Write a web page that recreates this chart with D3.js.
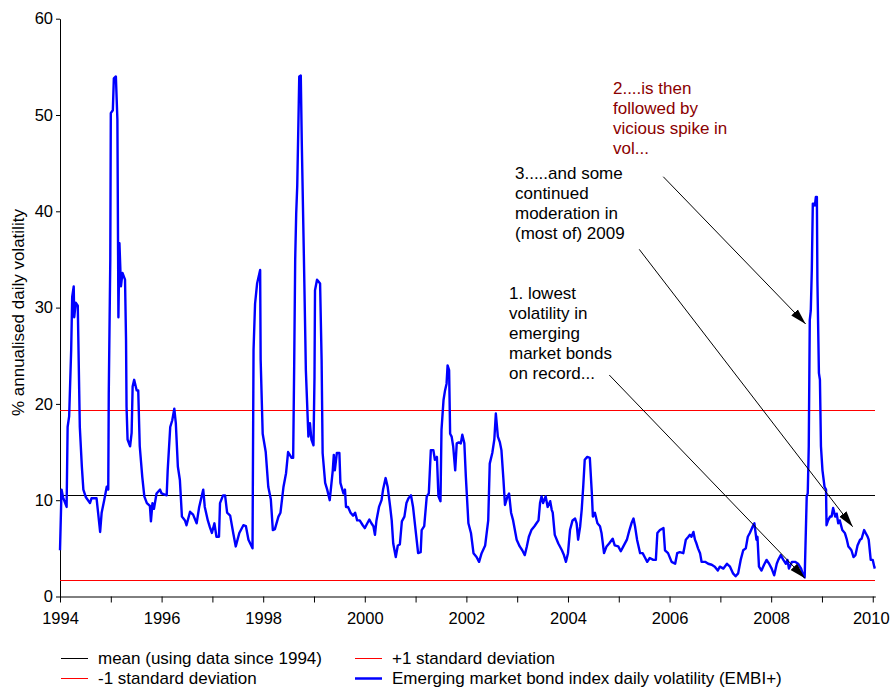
<!DOCTYPE html>
<html>
<head>
<meta charset="utf-8">
<script src="https://cdn.jsdelivr.net/npm/d3@7"></script>
<style>
  body { margin: 0; background: #fff; }
  text { font-family: Arial, "Liberation Sans", sans-serif; }
</style>
</head>
<body>
<svg id="chart" width="890" height="688"></svg>
<script>
// EMBI+ daily volatility, % annualised: [decimal year, value]
const embiVol = [
  [1994.00,4.8],[1994.03,11.1],[1994.06,10.3],[1994.13,9.3],[1994.15,17.6],[1994.18,18.7],
  [1994.22,25.6],[1994.24,31.1],[1994.27,32.2],[1994.28,29.0],[1994.31,30.5],[1994.35,30.2],
  [1994.36,27.0],[1994.39,17.6],[1994.43,13.5],[1994.46,11.1],[1994.51,10.3],[1994.59,9.7],
  [1994.62,10.2],[1994.72,10.2],[1994.75,8.7],[1994.79,6.7],[1994.82,8.7],[1994.87,10.0],
  [1994.92,11.4],[1994.95,11.1],[1994.96,21.1],[1994.99,35.0],[1995.00,50.2],[1995.04,50.5],
  [1995.06,53.8],[1995.10,54.0],[1995.13,49.5],[1995.15,29.0],[1995.17,36.7],[1995.20,32.2],
  [1995.23,33.6],[1995.28,32.9],[1995.30,26.6],[1995.31,19.7],[1995.33,16.3],[1995.38,15.6],
  [1995.41,17.0],[1995.43,21.8],[1995.46,22.5],[1995.51,21.4],[1995.54,21.4],[1995.57,15.6],
  [1995.62,12.4],[1995.66,10.4],[1995.71,9.7],[1995.77,9.4],[1995.79,7.8],[1995.82,9.7],
  [1995.85,9.1],[1995.90,10.7],[1995.97,11.1],[1996.00,10.7],[1996.10,10.5],[1996.12,13.1],
  [1996.17,17.6],[1996.21,18.3],[1996.25,19.5],[1996.28,18.0],[1996.32,13.5],[1996.36,12.1],
  [1996.40,8.3],[1996.46,7.9],[1996.49,7.4],[1996.56,8.8],[1996.62,8.5],[1996.69,7.6],
  [1996.74,9.3],[1996.82,11.1],[1996.85,9.3],[1996.91,7.9],[1996.95,7.2],[1996.99,6.6],
  [1997.04,7.6],[1997.08,6.2],[1997.13,6.2],[1997.15,9.7],[1997.21,10.5],[1997.25,10.5],
  [1997.29,8.7],[1997.35,8.4],[1997.41,6.6],[1997.46,5.2],[1997.53,6.6],[1997.61,7.4],
  [1997.66,7.3],[1997.71,5.9],[1997.79,5.0],[1997.81,25.6],[1997.84,30.4],[1997.88,32.5],
  [1997.94,33.9],[1997.95,24.6],[1997.99,16.9],[1998.05,15.0],[1998.10,11.4],[1998.15,10.1],
  [1998.19,6.9],[1998.23,7.0],[1998.30,8.3],[1998.34,8.7],[1998.40,11.4],[1998.45,12.8],
  [1998.49,15.0],[1998.56,14.4],[1998.59,14.4],[1998.61,23.9],[1998.63,35.0],[1998.65,39.8],
  [1998.67,42.6],[1998.71,54.0],[1998.74,54.1],[1998.76,47.1],[1998.80,35.6],[1998.83,26.6],
  [1998.84,23.5],[1998.89,16.6],[1998.92,18.0],[1998.95,16.3],[1998.99,15.7],[1999.01,22.8],
  [1999.02,31.8],[1999.06,32.9],[1999.12,32.5],[1999.15,24.6],[1999.17,14.9],[1999.22,11.8],
  [1999.26,11.1],[1999.31,10.0],[1999.37,13.1],[1999.39,14.7],[1999.41,13.1],[1999.45,14.9],
  [1999.50,14.9],[1999.52,11.8],[1999.58,10.7],[1999.61,11.1],[1999.63,9.3],[1999.67,9.3],
  [1999.72,8.7],[1999.77,8.4],[1999.81,8.7],[1999.85,7.9],[1999.90,7.9],[1999.96,7.4],
  [2000.00,7.1],[2000.05,7.6],[2000.09,8.0],[2000.13,7.6],[2000.17,7.3],[2000.20,6.4],
  [2000.23,7.9],[2000.28,9.3],[2000.33,10.0],[2000.36,11.1],[2000.41,12.3],[2000.45,11.4],
  [2000.50,9.3],[2000.53,7.9],[2000.56,5.5],[2000.61,4.1],[2000.65,5.3],[2000.69,5.4],
  [2000.73,7.8],[2000.78,8.3],[2000.82,9.7],[2000.86,10.2],[2000.91,10.5],[2000.95,9.3],
  [2001.00,6.9],[2001.05,4.5],[2001.10,4.6],[2001.12,6.9],[2001.17,7.3],[2001.22,10.4],
  [2001.26,10.7],[2001.30,15.2],[2001.35,15.2],[2001.38,14.2],[2001.42,14.5],[2001.45,10.4],
  [2001.49,9.9],[2001.51,17.3],[2001.55,20.4],[2001.58,21.4],[2001.61,22.1],[2001.63,24.0],
  [2001.66,23.5],[2001.68,16.9],[2001.71,16.6],[2001.74,15.6],[2001.78,13.1],[2001.81,15.9],
  [2001.85,16.0],[2001.89,15.9],[2001.92,16.8],[2001.96,15.9],[2001.99,12.4],[2002.04,7.6],
  [2002.09,6.6],[2002.14,4.5],[2002.20,4.1],[2002.25,3.6],[2002.30,4.5],[2002.37,5.3],
  [2002.43,7.9],[2002.46,13.8],[2002.51,14.9],[2002.55,16.3],[2002.58,19.0],[2002.62,16.6],
  [2002.66,16.0],[2002.69,15.2],[2002.73,12.1],[2002.76,9.5],[2002.81,10.4],[2002.84,10.7],
  [2002.88,8.7],[2002.92,7.9],[2002.99,5.9],[2003.05,5.2],[2003.10,4.8],[2003.15,4.3],
  [2003.19,5.2],[2003.23,6.2],[2003.28,6.9],[2003.34,7.3],[2003.38,7.6],[2003.42,7.9],
  [2003.45,9.7],[2003.48,10.4],[2003.51,9.7],[2003.56,10.4],[2003.60,9.3],[2003.65,9.9],
  [2003.68,9.0],[2003.70,8.7],[2003.74,6.4],[2003.81,5.5],[2003.88,4.8],[2003.92,4.3],
  [2003.96,3.6],[2004.00,4.5],[2004.04,6.9],[2004.09,7.9],[2004.14,8.1],[2004.17,7.6],
  [2004.20,5.9],[2004.24,7.3],[2004.27,9.0],[2004.30,11.4],[2004.33,14.2],[2004.38,14.5],
  [2004.43,14.4],[2004.47,10.7],[2004.49,8.3],[2004.53,8.7],[2004.58,7.6],[2004.63,7.3],
  [2004.66,6.6],[2004.71,4.5],[2004.76,5.2],[2004.81,5.5],[2004.88,6.0],[2004.92,5.3],
  [2004.99,5.2],[2005.04,4.7],[2005.09,5.2],[2005.16,5.9],[2005.21,6.9],[2005.25,7.6],
  [2005.29,8.1],[2005.32,7.3],[2005.36,5.9],[2005.42,4.5],[2005.47,4.5],[2005.52,4.0],
  [2005.56,3.6],[2005.61,4.0],[2005.68,3.8],[2005.73,3.8],[2005.76,6.6],[2005.81,6.9],
  [2005.88,7.1],[2005.91,4.8],[2005.97,4.5],[2006.04,3.6],[2006.11,3.4],[2006.15,4.5],
  [2006.20,4.6],[2006.27,4.5],[2006.32,5.9],[2006.37,6.2],[2006.40,6.4],[2006.43,6.2],
  [2006.47,6.7],[2006.50,5.9],[2006.53,5.5],[2006.56,5.0],[2006.60,4.5],[2006.63,3.6],
  [2006.70,3.6],[2006.76,3.4],[2006.83,3.3],[2006.89,3.1],[2006.95,2.7],[2006.99,3.1],
  [2007.06,2.9],[2007.13,3.4],[2007.19,3.1],[2007.25,2.4],[2007.30,2.1],[2007.35,2.4],
  [2007.40,3.8],[2007.45,4.8],[2007.50,5.0],[2007.54,6.2],[2007.58,6.6],[2007.63,7.2],
  [2007.67,7.6],[2007.71,5.9],[2007.73,6.2],[2007.76,3.1],[2007.81,2.7],[2007.86,3.3],
  [2007.91,3.8],[2007.96,3.4],[2008.01,2.9],[2008.06,2.2],[2008.11,3.4],[2008.14,3.8],
  [2008.19,4.3],[2008.24,3.8],[2008.29,3.4],[2008.32,3.8],[2008.35,2.9],[2008.41,3.6],
  [2008.47,3.6],[2008.53,3.4],[2008.59,2.9],[2008.63,2.2],[2008.66,2.0],[2008.70,10.4],
  [2008.72,10.7],[2008.74,15.6],[2008.76,28.7],[2008.78,29.7],[2008.80,33.9],[2008.82,40.8],
  [2008.84,40.8],[2008.86,40.6],[2008.88,41.5],[2008.90,41.5],[2008.91,32.9],[2008.94,23.2],
  [2008.96,22.5],[2008.98,15.6],[2009.01,13.1],[2009.05,11.4],[2009.08,11.1],[2009.09,7.4],
  [2009.12,7.9],[2009.16,8.3],[2009.19,8.3],[2009.22,9.2],[2009.26,8.3],[2009.29,8.6],
  [2009.32,7.6],[2009.35,7.9],[2009.40,6.9],[2009.45,6.6],[2009.49,5.9],[2009.52,5.2],
  [2009.55,5.0],[2009.58,4.8],[2009.62,4.1],[2009.66,4.3],[2009.70,5.3],[2009.75,5.9],
  [2009.78,6.0],[2009.83,6.9],[2009.86,6.6],[2009.90,6.2],[2009.92,5.9],[2009.96,3.8],
  [2010.00,3.8],[2010.03,3.1],[2010.04,2.9]
];

// Reference levels (mean and +/- one standard deviation since 1994)
const refLevels = [
  { key: "mean", value: 10.5, color: "#000000" },
  { key: "plus", value: 19.3, color: "#ff0000" },
  { key: "minus", value: 1.7, color: "#ff0000" }
];

const yearTicks = d3.range(1994, 2011);
const valueTicks = [0, 10, 20, 30, 40, 50, 60];

const legendItems = [
  { label: "mean (using data since 1994)", color: "#000000", width: 1, col: 0, row: 0 },
  { label: "+1 standard deviation", color: "#ff0000", width: 1, col: 1, row: 0 },
  { label: "-1 standard deviation", color: "#ff0000", width: 1, col: 0, row: 1 },
  { label: "Emerging market bond index daily volatility (EMBI+)", color: "#0000ff", width: 2.5, col: 1, row: 1 }
];

// Callouts: text block anchor and arrow from/to, in data units
const callouts = [
  { lines: ["2....is then", "followed by", "vicious spike in", "vol..."], color: "#8b0000",
    at: [2004.886, 52.18] },
  { lines: ["3.....and some", "continued", "moderation in", "(most of) 2009"], color: "#000000",
    at: [2002.957, 43.35] },
  { lines: ["1. lowest", "volatility in", "emerging", "market bonds", "on record..."], color: "#000000",
    at: [2002.839, 30.89] }
];
const arrows = [
  { from: [2005.876, 43.59], to: [2008.679, 28.30] },
  { from: [2005.403, 36.05], to: [2009.604, 7.25] },
  { from: [2004.813, 23.0], to: [2008.665, 1.89] }
];

const svg = d3.select("#chart");
const x = d3.scaleLinear().domain([1994, 2010.05]).range([60, 875.3]);
const y = d3.scaleLinear().domain([0, 60]).range([596.5, 18.7]);

// Axes
const xAxis = d3.axisBottom(x)
  .tickValues(yearTicks)
  .tickFormat(d => d % 2 === 0 ? String(d) : "")
  .tickSize(6).tickSizeOuter(0).tickPadding(10);
const yAxis = d3.axisLeft(y)
  .tickValues(valueTicks)
  .tickSize(4).tickSizeOuter(0).tickPadding(3);

const gx = svg.append("g").attr("transform", `translate(0,${y(0)})`).call(xAxis);
const gy = svg.append("g").attr("transform", `translate(${x(1994)},0)`).call(yAxis);
[gx, gy].forEach(g => {
  g.selectAll("text").attr("font-size", 16.5).attr("fill", "#000")
    .attr("font-family", 'Arial, "Liberation Sans", sans-serif');
  g.selectAll("line").attr("stroke", "#000");
  g.select(".domain").attr("stroke", "#000");
});
// keep the last year label inside the frame
gx.selectAll(".tick text").filter(d => d === 2010).attr("dx", -2);

// Y axis title
svg.append("text")
  .attr("transform", `translate(24,${(y(0) + y(60)) / 2 + 5}) rotate(-90)`)
  .attr("text-anchor", "middle")
  .attr("font-size", 17)
  .attr("fill", "#000")
  .text("% annualised daily volatility");

// Reference lines, snapped to whole pixel rows
svg.append("g").selectAll("line").data(refLevels).join("line")
  .attr("x1", x(1994)).attr("x2", x(2010.05))
  .attr("y1", d => Math.floor(y(d.value)) + 0.5).attr("y2", d => Math.floor(y(d.value)) + 0.5)
  .attr("stroke", d => d.color).attr("stroke-width", 1)
  .attr("shape-rendering", "crispEdges");

// Volatility series
const line = d3.line().x(d => x(d[0])).y(d => y(d[1]));
svg.append("path").datum(embiVol)
  .attr("d", line)
  .attr("fill", "none")
  .attr("stroke", "#0000ff")
  .attr("stroke-width", 2.4)
  .attr("stroke-linejoin", "round");

// Arrowhead
svg.append("defs").append("marker")
  .attr("id", "arrowhead")
  .attr("markerUnits", "userSpaceOnUse")
  .attr("markerWidth", 17).attr("markerHeight", 10)
  .attr("refX", 16).attr("refY", 5)
  .attr("orient", "auto")
  .append("path").attr("d", "M0,0.5 L16,5 L0,9.5 Z").attr("fill", "#000");

svg.append("g").selectAll("line").data(arrows).join("line")
  .attr("x1", d => x(d.from[0])).attr("y1", d => y(d.from[1]))
  .attr("x2", d => x(d.to[0])).attr("y2", d => y(d.to[1]))
  .attr("stroke", "#000").attr("stroke-width", 1)
  .attr("marker-end", "url(#arrowhead)");

// Callout text
callouts.forEach(c => {
  const t = svg.append("text")
    .attr("x", x(c.at[0])).attr("y", y(c.at[1]))
    .attr("font-size", 17).attr("fill", c.color);
  c.lines.forEach((s, i) => {
    t.append("tspan").attr("x", x(c.at[0])).attr("dy", i === 0 ? 0 : 20).text(s);
  });
});

// Legend
const legendCols = [60, 354];
const legendRows = [658, 678];
const lg = svg.append("g").selectAll("g").data(legendItems).join("g")
  .attr("transform", d => `translate(${legendCols[d.col]},${legendRows[d.row]})`);
lg.append("line").attr("x1", 1).attr("x2", 28).attr("y1", 0.5).attr("y2", 0.5)
  .attr("stroke", d => d.color).attr("stroke-width", d => d.width);
lg.append("text").attr("x", 38).attr("y", 6)
  .attr("font-size", 17).attr("fill", "#000").text(d => d.label);
</script>
</body>
</html>
